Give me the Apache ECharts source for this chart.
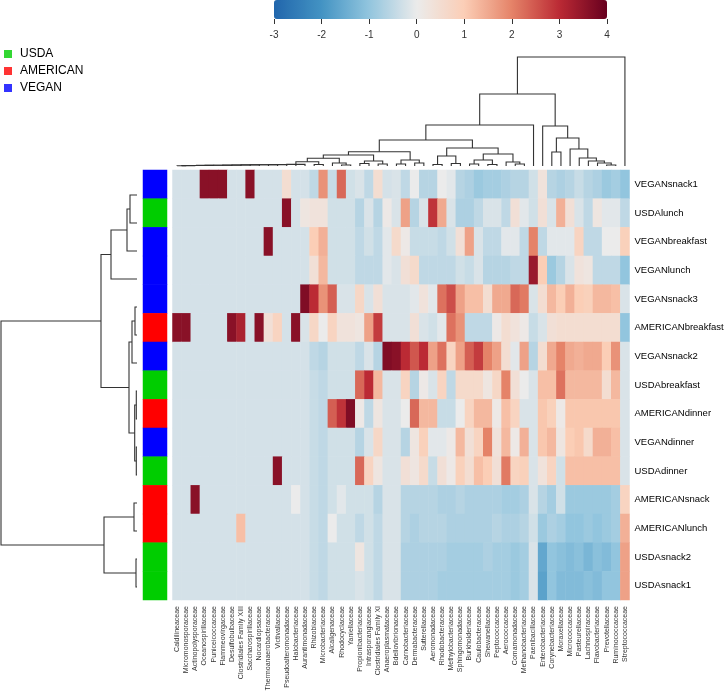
<!DOCTYPE html>
<html><head><meta charset="utf-8">
<script src="https://cdn.jsdelivr.net/npm/echarts@6/dist/echarts.min.js"></script>
<style>html,body{margin:0;padding:0;background:#fff}#c{width:728px;height:699px}</style>
</head><body><div id="c"></div>
<script>
const samples = ['VEGANsnack1','USDAlunch','VEGANbreakfast','VEGANlunch','VEGANsnack3','AMERICANbreakfast','VEGANsnack2','USDAbreakfast','AMERICANdinner','VEGANdinner','USDAdinner','AMERICANsnack','AMERICANlunch','USDAsnack2','USDAsnack1'];
const sampleGroups = ['VEGAN','USDA','VEGAN','VEGAN','VEGAN','AMERICAN','VEGAN','USDA','AMERICAN','VEGAN','USDA','AMERICAN','AMERICAN','USDA','USDA'];
const taxa = ['Caldilineaceae','Micromonosporaceae','Actinopolysporaceae','Oceanospirillaceae','Puniceicoccaceae','Flammeovirgaceae','Desulfobulbaceae','Clostridiales Family XIII','Saccharospirillaceae','Nocardiopsaceae','Thermoanaerobacteraceae','Victivallaceae','Pseudoalteromonadaceae','Halobacteriaceae','Aurantimonadaceae','Rhizobiaceae','Microbacteriaceae','Alcaligenaceae','Rhodocyclaceae','Yaniellaceae','Propionibacteriaceae','Intrasporangiaceae','Clostridiales Family XI','Anaeroplasmataceae','Bdellovibrionaceae','Carnobacteriaceae','Dermabacteraceae','Sutterellaceae','Aeromonadaceae','Rhodobacteraceae','Methylobacteriaceae','Sphingomonadaceae','Burkholderiaceae','Caulobacteraceae','Shewanellaceae','Peptococcaceae','Aerococcaceae','Comamonadaceae','Methanobacteriaceae','Paenibacillaceae','Enterobacteriaceae','Corynebacteriaceae','Moraxellaceae','Micrococcaceae','Pasteurellaceae','Lachnospiraceae','Flavobacteriaceae','Prevotellaceae','Ruminococcaceae','Streptococcaceae'];
const groupNames = ['USDA','AMERICAN','VEGAN'];
const groupColors = ['#00CD00','#FF0000','#0000FF'];
const colorTicks = [-3,-2,-1,0,1,2,3,4];
const colorStops = ['#2166AC','#4393C3','#92C5DE','#EBEBEB','#FBCEB6','#E58368','#BB2A34','#67001F'];

const vVEGANsnack1 = [-0.26,-0.26,-0.26,3.6,3.6,3.6,-0.26,-0.26,3.6,-0.26, -0.26,-0.26,0.5,-0.26,-0.26,-0.5,1.8,-0.4,2.3,-0.3, -0.2,-0.5,0.5,-0.26,-0.2,-0.5,0.0,-0.6,-0.6,0.0, -0.1,-0.6,-0.7,-0.9,-0.8,-0.8,-0.7,-0.6,-0.6,-0.3, 0.3,-0.6,-0.7,-0.6,-0.4,-0.6,-0.7,-0.9,-0.8,-1.0];
const vUSDAlunch = [-0.26,-0.26,-0.26,-0.26,-0.26,-0.26,-0.26,-0.26,-0.26,-0.26, -0.26,-0.26,3.6,-0.26,0.2,0.3,0.3,-0.3,-0.3,-0.3, -0.6,-0.2,-0.6,0.1,-0.2,1.6,-0.6,-0.2,2.9,1.5, -0.2,-0.7,-0.7,-0.5,-0.2,-0.2,-0.5,0.4,-0.1,-0.3, 0.4,-0.2,1.4,0.4,-0.2,-0.5,0.2,-0.1,-0.1,-0.5];
const vVEGANbreakfast = [-0.26,-0.26,-0.26,-0.26,-0.26,-0.26,-0.26,-0.26,-0.26,-0.26, 3.6,-0.26,-0.26,-0.26,-0.26,1.0,1.4,-0.3,-0.3,-0.3, -0.5,-0.3,-0.5,-0.1,0.6,0.1,-0.4,-0.4,-0.4,-0.5, -0.3,0.4,1.6,-0.2,-0.5,-0.5,-0.1,-0.1,-0.5,2.0, -0.5,-0.1,-0.1,-0.1,0.8,-0.5,-0.5,0.0,0.0,0.9];
const vVEGANlunch = [-0.26,-0.26,-0.26,-0.26,-0.26,-0.26,-0.26,-0.26,-0.26,-0.26, -0.26,-0.26,-0.26,-0.26,-0.26,0.4,1.3,-0.3,-0.3,-0.3, -0.5,-0.5,-0.5,-0.1,-0.2,0.4,0.6,-0.5,-0.5,-0.5, -0.5,-0.3,-0.4,-0.2,-0.6,-0.6,-0.6,-0.5,-0.5,3.4, 1.0,-0.9,-0.6,-0.2,0.3,0.2,-0.5,-0.5,-0.5,-1.0];
const vVEGANsnack3 = [-0.26,-0.26,-0.26,-0.26,-0.26,-0.26,-0.26,-0.26,-0.26,-0.26, -0.26,-0.26,-0.26,-0.26,3.7,3.0,1.8,2.4,-0.2,-0.2, 0.7,-0.2,0.4,-0.2,-0.2,-0.2,-0.1,0.3,-0.1,2.2, 2.6,1.6,1.2,1.2,0.5,1.5,1.5,2.3,2.1,-0.2, 0.5,1.3,1.0,1.4,1.0,0.9,1.3,1.3,1.2,-0.2];
const vAMERICANbreakfast = [3.6,3.6,-0.26,-0.26,-0.26,-0.26,3.6,3.2,-0.26,3.6, 0.4,0.8,-0.26,3.6,-0.2,0.7,0.0,0.8,0.3,0.3, 0.2,1.6,2.8,-0.2,-0.2,-0.2,0.4,-0.2,-0.3,-0.1, 2.2,1.8,-0.5,-0.5,-0.5,0.1,0.5,0.3,0.1,-0.4, -0.2,0.4,0.5,0.5,0.5,0.5,0.5,0.5,0.5,-1.0];
const vVEGANsnack2 = [-0.26,-0.26,-0.26,-0.26,-0.26,-0.26,-0.26,-0.26,-0.26,-0.26, -0.26,-0.26,-0.26,-0.26,-0.26,-0.5,-0.6,-0.3,-0.3,-0.3, -0.5,-0.2,-0.6,3.7,3.6,3.0,2.5,3.0,1.6,2.2, 0.8,1.6,2.4,2.8,2.0,1.6,0.5,-0.1,1.6,-0.6, 0.5,1.5,2.0,1.5,1.4,1.5,1.5,1.0,1.8,-0.2];
const vUSDAbreakfast = [-0.26,-0.26,-0.26,-0.26,-0.26,-0.26,-0.26,-0.26,-0.26,-0.26, -0.26,-0.26,-0.26,-0.26,-0.26,-0.4,-0.5,-0.3,-0.3,-0.3, 2.3,3.0,1.3,-0.2,-0.2,0.8,-0.6,0.1,-0.2,0.8, -0.5,0.6,0.6,0.6,0.2,0.7,2.0,0.4,0.0,-0.2, 1.2,1.2,2.2,1.3,1.3,1.3,1.3,0.5,1.3,-0.2];
const vAMERICANdinner = [-0.26,-0.26,-0.26,-0.26,-0.26,-0.26,-0.26,-0.26,-0.26,-0.26, -0.26,-0.26,-0.26,-0.26,-0.26,-0.4,-0.5,2.4,2.9,3.7, 0.1,-0.5,0.2,-0.2,-0.2,0.0,2.3,1.3,1.3,-0.4, -0.4,0.0,0.8,1.3,1.3,0.1,1.2,0.8,-0.2,-0.2, 1.1,0.9,0.1,1.1,1.1,1.1,1.1,1.1,1.1,-0.2];
const vVEGANdinner = [-0.26,-0.26,-0.26,-0.26,-0.26,-0.26,-0.26,-0.26,-0.26,-0.26, -0.26,-0.26,-0.26,-0.26,-0.26,-0.4,-0.5,-0.3,-0.3,-0.3, -0.6,-0.2,0.7,-0.2,-0.2,-0.6,0.2,0.9,-0.1,-0.1, 0.1,1.3,0.4,0.8,2.0,0.3,1.3,0.1,1.4,-0.2, 1.1,1.3,0.2,1.0,1.1,0.6,1.4,1.4,1.2,-0.2];
const vUSDAdinner = [-0.26,-0.26,-0.26,-0.26,-0.26,-0.26,-0.26,-0.26,-0.26,-0.26, -0.26,3.6,-0.26,-0.26,-0.26,-0.4,-0.5,-0.3,-0.3,-0.3, 2.3,0.8,0.2,-0.2,-0.2,0.4,0.2,0.6,-0.4,0.4, 0.1,0.9,0.5,1.2,1.0,0.4,2.1,0.8,0.9,-0.2, 0.3,0.8,-0.3,1.2,1.2,1.2,1.2,1.2,1.2,-0.2];
const vAMERICANsnack = [-0.26,-0.26,3.6,-0.26,-0.26,-0.26,-0.26,-0.26,-0.26,-0.26, -0.26,-0.26,-0.26,0.0,-0.26,-0.4,-0.5,-0.3,-0.1,-0.3, -0.3,-0.3,-0.6,-0.2,-0.2,-0.6,-0.6,-0.6,-0.6,-0.7, -0.7,-0.6,-0.7,-0.7,-0.7,-0.7,-0.8,-0.8,-0.7,-0.2, -0.6,-0.8,-0.3,-0.9,-0.9,-0.9,-0.9,-0.9,-0.8,0.8];
const vAMERICANlunch = [-0.26,-0.26,-0.26,-0.26,-0.26,-0.26,-0.26,1.2,-0.26,-0.26, -0.26,-0.26,-0.26,-0.26,-0.26,-0.4,-0.5,0.0,-0.3,-0.3, -0.5,-0.3,-0.5,-0.2,-0.2,-0.6,-0.7,-0.6,-0.6,-0.6, -0.7,-0.7,-0.7,-0.7,-0.7,-0.6,-0.7,-0.7,-0.6,-0.3, -0.9,-0.7,-0.8,-1.0,-1.0,-0.9,-1.0,-0.9,-0.8,1.4];
const vUSDAsnack2 = [-0.26,-0.26,-0.26,-0.26,-0.26,-0.26,-0.26,-0.26,-0.26,-0.26, -0.26,-0.26,-0.26,-0.26,-0.26,-0.4,-0.5,-0.3,-0.3,-0.3, 0.2,-0.3,-0.5,-0.2,-0.2,-0.7,-0.7,-0.7,-0.7,-0.7, -0.8,-0.8,-0.8,-0.8,-0.7,-0.8,-0.8,-0.9,-0.8,-0.2, -1.6,-1.0,-1.1,-1.2,-1.1,-1.3,-1.1,-1.2,-1.0,1.6];
const vUSDAsnack1 = [-0.26,-0.26,-0.26,-0.26,-0.26,-0.26,-0.26,-0.26,-0.26,-0.26, -0.26,-0.26,-0.26,-0.26,-0.26,-0.4,-0.5,-0.3,-0.3,-0.3, -0.2,-0.3,-0.5,-0.2,-0.2,-0.7,-0.7,-0.7,-0.7,-0.8, -0.8,-0.8,-0.8,-0.8,-0.8,-0.8,-0.8,-0.9,-0.8,-0.2, -1.7,-1.0,-1.2,-1.2,-1.2,-1.1,-1.2,-1.0,-1.0,1.6];

// column dendrogram merges: [left, right, height]; numbers = leaf columns, '#k' = earlier merge k
const colMerges = [
  [0,1,0.3],['#0',2,0.4],['#1',3,0.5],['#2',4,0.6],['#3',5,0.7],['#4',6,0.8],['#5',7,0.9],['#6',8,1.0],
  ['#7',9,1.1],['#8',10,1.2],['#9',11,1.3],['#10',12,1.4],['#11',13,1.5],['#12',14,1.6],
  [15,16,1.5],['#13','#14',4.3],[18,19,1.0],[17,'#16',3.0],['#15','#17',7.7],
  [20,21,2.5],[22,23,2.0],['#19','#20',5.0],['#18','#21',11.0],
  [24,25,2.0],[26,27,3.0],['#23','#24',6.0],['#22','#25',14.3],
  [28,29,1.5],[30,31,2.5],['#27','#28',10],[32,33,2],[34,35,1.5],['#30','#31',6],
  [37,38,2],[36,'#33',4],['#32','#34',12],['#29','#35',18],
  ['#26','#36',26],['#37',39,41],
  [41,42,14],[47,48,1],[46,'#40',3],[45,'#41',5],[44,'#42',8],[43,'#43',17],['#39','#44',28],[40,'#45',40],
  ['#38','#46',72],['#47',49,109]
];
const rowMerges = [
  [0,1,7],['#0',2,10],['#1',3,26],[4,5,2],['#3',6,5],[7,8,0.7],[9,10,0.7],['#5','#6',2.3],
  ['#4','#7',8],['#2','#8',36],[11,12,3],[13,14,1],['#10','#11',33],['#9','#12',136]
];

function dendroSegments(merges){
  const pos=[], hgt=[], segs=[];
  const info = r => typeof r==='number' ? [r,0] : [pos[+r.slice(1)], hgt[+r.slice(1)]];
  merges.forEach((m,k)=>{ const a=info(m[0]), b=info(m[1]); pos[k]=(a[0]+b[0])/2; hgt[k]=m[2]; segs.push([a[0],a[1],b[0],b[1],m[2]]); });
  return segs;
}

const matrix = [vVEGANsnack1,vUSDAlunch,vVEGANbreakfast,vVEGANlunch,vVEGANsnack3,vAMERICANbreakfast,vVEGANsnack2,vUSDAbreakfast,vAMERICANdinner,vVEGANdinner,vUSDAdinner,vAMERICANsnack,vAMERICANlunch,vUSDAsnack2,vUSDAsnack1];
const heatData = [];
matrix.forEach((row,r)=>row.forEach((v,c)=>heatData.push([c,r,v])));
const annData = sampleGroups.map((g,r)=>[0,r,groupNames.indexOf(g)]);

const FONT = 'Liberation Sans, Arial, sans-serif';
const lineStyle = {stroke:'#333', lineWidth:1.1, fill:null};
const hidden = {show:false};
const chart = echarts.init(document.getElementById('c'), null, {renderer:'canvas'});
chart.setOption({
  animation:false,
  textStyle:{fontFamily:FONT},
  legend:{data:groupNames, orient:'vertical', left:4, top:48, itemWidth:8, itemHeight:8, itemGap:5, icon:'rect', selectedMode:false, padding:0,
    textStyle:{fontSize:12, color:'#000', fontFamily:FONT, padding:[0,0,0,3]}},
  grid:[
    {left:172.5, top:170, width:457, height:430},
    {left:143, top:170, width:24, height:430},
    {left:172.5, top:57, width:457, height:109},
    {left:1, top:181, width:136, height:420},
    {left:274, top:18, width:333, height:1}
  ],
  xAxis:[
    {type:'category', gridIndex:0, data:taxa, position:'bottom', axisLine:hidden, axisTick:hidden, splitLine:hidden,
      axisLabel:{rotate:90, fontSize:7, margin:6, interval:0, color:'#333', fontFamily:FONT}},
    {type:'category', gridIndex:1, data:['group'], show:false},
    {type:'value', gridIndex:2, min:-0.5, max:49.5, show:false},
    {type:'value', gridIndex:3, min:0, max:136, inverse:true, show:false},
    {type:'value', gridIndex:4, min:-3, max:4, interval:1, axisLine:hidden, splitLine:hidden,
      axisTick:{show:true, length:5, lineStyle:{color:'#333'}}, axisLabel:{fontSize:10, color:'#333', margin:11, fontFamily:FONT}}
  ],
  yAxis:[
    {type:'category', gridIndex:0, data:samples, inverse:true, position:'right', axisLine:hidden, axisTick:hidden, splitLine:hidden,
      axisLabel:{fontSize:9.5, margin:5, interval:0, color:'#000', fontFamily:FONT}},
    {type:'category', gridIndex:1, data:samples, inverse:true, show:false},
    {type:'value', gridIndex:2, min:0, max:109, show:false},
    {type:'value', gridIndex:3, min:-0.5, max:14.5, inverse:true, show:false},
    {type:'value', gridIndex:4, show:false, min:0, max:1}
  ],
  visualMap:[
    {type:'continuous', seriesIndex:0, min:-3, max:4, orient:'horizontal', left:274, top:0, itemWidth:19, itemHeight:333,
      calculable:false, hoverLink:false, padding:0, inRange:{color:colorStops}, text:null, show:true},
    {type:'piecewise', seriesIndex:1, show:false, dimension:2,
      pieces:groupNames.map((g,i)=>({value:i, color:groupColors[i]}))}
  ],
  series:[
    {type:'heatmap', xAxisIndex:0, yAxisIndex:0, data:heatData, progressive:0, emphasis:{disabled:true}, silent:true},
    {type:'heatmap', xAxisIndex:1, yAxisIndex:1, data:annData, progressive:0, emphasis:{disabled:true}, silent:true},
    {type:'custom', xAxisIndex:2, yAxisIndex:2, data:dendroSegments(colMerges), silent:true, encode:{x:[0,2], y:[1,3,4]},
      renderItem:(p,api)=>({type:'polyline', shape:{points:[
        api.coord([api.value(0),api.value(1)]), api.coord([api.value(0),api.value(4)]),
        api.coord([api.value(2),api.value(4)]), api.coord([api.value(2),api.value(3)])]}, style:lineStyle})},
    {type:'custom', xAxisIndex:3, yAxisIndex:3, data:dendroSegments(rowMerges), silent:true, encode:{y:[0,2], x:[1,3,4]},
      renderItem:(p,api)=>({type:'polyline', shape:{points:[
        api.coord([api.value(1),api.value(0)]), api.coord([api.value(4),api.value(0)]),
        api.coord([api.value(4),api.value(2)]), api.coord([api.value(3),api.value(2)])]}, style:lineStyle})},
    ...groupNames.map((g,i)=>({type:'scatter', name:g, xAxisIndex:4, yAxisIndex:4, data:[], itemStyle:{color:groupColors[i]}}))
  ]
});
</script></body></html>
